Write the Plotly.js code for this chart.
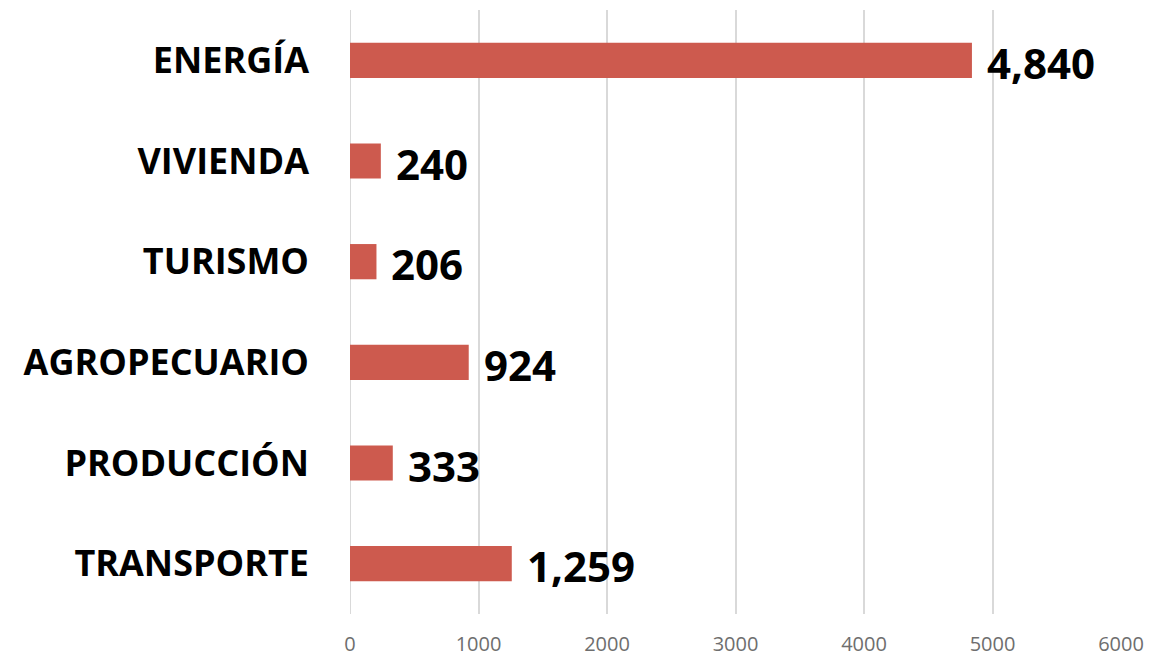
<!DOCTYPE html>
<html>
<head>
<meta charset="utf-8">
<script src="https://cdn.plot.ly/plotly-3.0.1.min.js"></script>
<style>html,body{margin:0;padding:0;background:#fff}#chart{width:1149px;height:660px}</style>
</head>
<body>
<div id="chart"></div>
<script>
const categories = ["TRANSPORTE", "PRODUCCIÓN", "AGROPECUARIO", "TURISMO", "VIVIENDA", "ENERGÍA"];
const values = [1259, 333, 924, 206, 240, 4840];
const tickValues = [0, 1000, 2000, 3000, 4000, 5000, 6000];

const fmt = v => v.toLocaleString("en-US");

const trace = {
  type: "bar",
  orientation: "h",
  x: values,
  y: categories,
  marker: {color: "#cd5a4e"},
  width: 0.35,
  hoverinfo: "none"
};

const annotations = values.map((v, i) => ({
  x: v, y: categories[i], xref: "x", yref: "y",
  text: fmt(v), showarrow: false, xanchor: "left", yanchor: "middle",
  xshift: 13, yshift: -2,
  font: {family: "Open Sans", size: 42, color: "#000", weight: 700}
}));

const layout = {
  width: 1149, height: 660,
  margin: {l: 350, r: 28, t: 10, b: 46},
  paper_bgcolor: "#fff", plot_bgcolor: "#fff",
  showlegend: false,
  bargap: 0.65,
  xaxis: {
    range: [0, 6000],
    tickvals: tickValues,
    ticktext: tickValues.map(String),
    showgrid: true, gridcolor: "#d9d9d9", gridwidth: 2,
    zeroline: false, showline: false,
    tickfont: {family: "Liberation Sans Narrow, Open Sans", size: 20, color: "#6e6e6e"},
    ticklabelstandoff: 16,
    fixedrange: true
  },
  yaxis: {
    type: "category",
    categoryorder: "array", categoryarray: categories,
    showgrid: false, zeroline: false, showline: false,
    ticks: "", ticklabelstandoff: 40,
    tickfont: {family: "Open Sans", size: 36, color: "#000", weight: 700},
    fixedrange: true
  },
  shapes: [{type: "line", xref: "x", yref: "paper", x0: 0, x1: 0, y0: 0, y1: 1, line: {color: "#d9d9d9", width: 2}, layer: "below"}],
  annotations: annotations
};

Plotly.newPlot("chart", [trace], layout, {displayModeBar: false, staticPlot: true});
</script>
</body>
</html>
